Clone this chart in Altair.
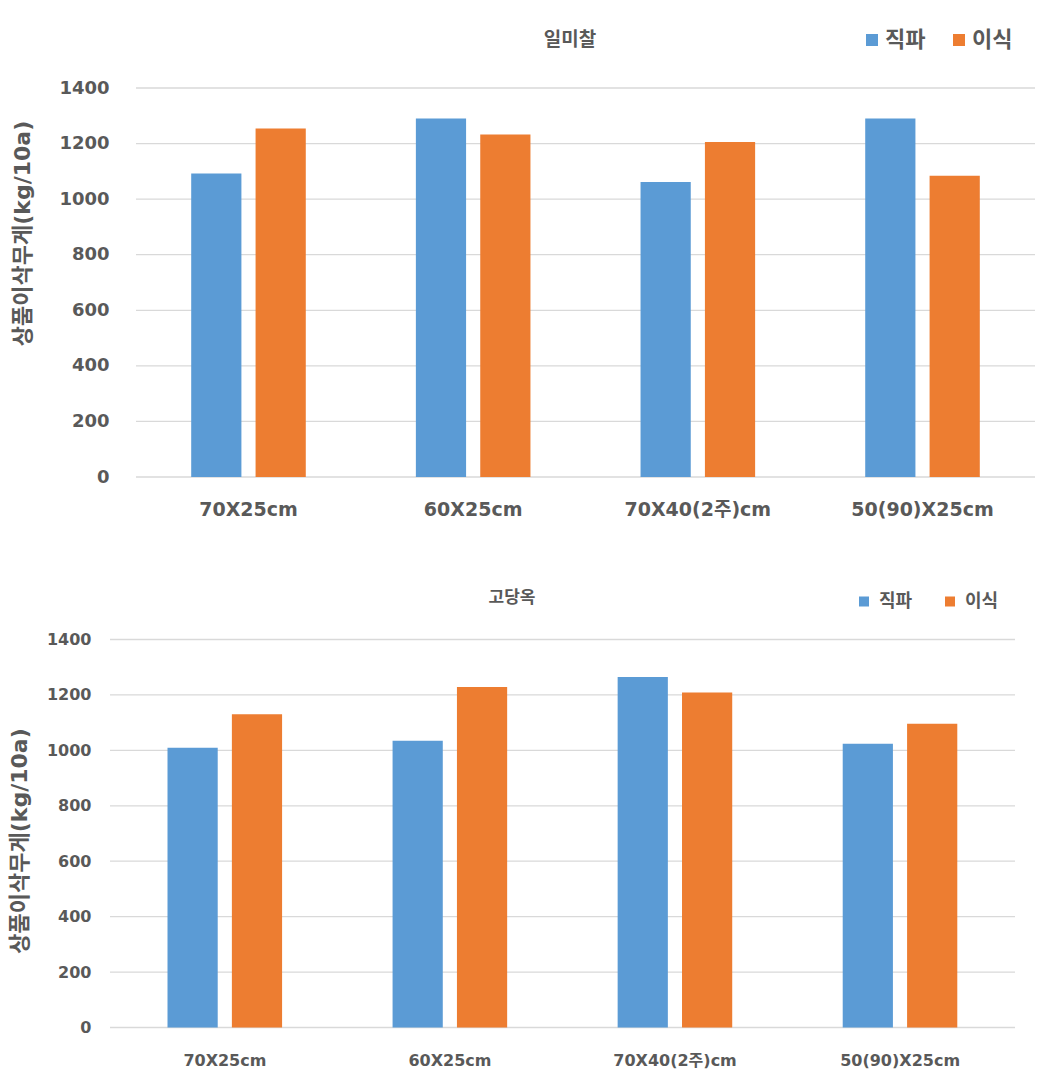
import altair as alt
import pandas as pd

categories = ["70X25cm", "60X25cm", "70X40(2주)cm", "50(90)X25cm"]
series = ["직파", "이식"]
ilmichal_direct = [1092, 1290, 1062, 1290]
ilmichal_transplant = [1254, 1233, 1206, 1084]
godangok_direct = [1009, 1035, 1265, 1024]
godangok_transplant = [1130, 1229, 1209, 1096]
y_ticks = [0, 200, 400, 600, 800, 1000, 1200, 1400]
y_title = "상품이삭무게(kg/10a)"

COLORS = ["#5B9BD5", "#ED7D31"]
TXT = "#595959"
GRID = "#D9D9D9"
FONT = "DejaVu Sans, Noto Sans CJK KR"
KFONT = "Noto Sans CJK KR"


def make_df(direct, transplant):
    rows = []
    for c, d, t in zip(categories, direct, transplant):
        rows.append({"cat": c, "series": series[0], "value": d})
        rows.append({"cat": c, "series": series[1], "value": t})
    return pd.DataFrame(rows)


grid_df = pd.DataFrame({"value": y_ticks})


def panel(df, title, off, w, h, pad_out, fs_tick, fs_xlab, fs_leg, fs_title,
          title_dx, title_off, ytitle_x, ytitle_y, ylab_pad, xlab_pad, leg_x,
          leg_y, sym, lab_off, colpad):
    yscale = alt.Scale(domain=[0, 1400], nice=False)
    yaxis = alt.Axis(values=y_ticks, format="d", title=y_title,
                     titleFont=FONT, titleFontSize=22, titleFontWeight="bold",
                     titleColor=TXT, titleX=ytitle_x, titleY=ytitle_y,
                     titleAngle=270, titleAlign="center", titleBaseline="middle",
                     labelFont=FONT, labelFontSize=fs_tick,
                     labelFontWeight="bold", labelColor=TXT,
                     labelPadding=ylab_pad, ticks=False, domain=False,
                     grid=False)
    rules = alt.Chart(grid_df).mark_rule(color=GRID, strokeWidth=1.3).encode(
        y=alt.Y("value:Q", scale=yscale, axis=yaxis),
        x=alt.value(off), x2=alt.value(w),
    )
    bars = alt.Chart(df).mark_bar().encode(
        x=alt.X("cat:N", sort=categories,
                scale=alt.Scale(range=[off, w], paddingInner=0.49,
                                paddingOuter=pad_out),
                axis=alt.Axis(title=None, labelAngle=0, labelFontSize=fs_xlab,
                              labelFont=FONT, labelFontWeight="bold", labelColor=TXT,
                              labelPadding=xlab_pad, ticks=False, domain=False,
                              grid=False)),
        xOffset=alt.XOffset("series:N", sort=series,
                            scale=alt.Scale(paddingInner=0.22, paddingOuter=0)),
        y=alt.Y("value:Q", scale=yscale, axis=yaxis),
        color=alt.Color("series:N", sort=series,
                        scale=alt.Scale(domain=series, range=COLORS),
                        legend=alt.Legend(title=None, orient="none",
                                          legendX=leg_x, legendY=leg_y,
                                          direction="horizontal",
                                          symbolType="square", symbolSize=sym,
                                          symbolStrokeWidth=0, symbolOpacity=1,
                                          labelFont=KFONT, labelFontSize=fs_leg,
                                          labelFontWeight="bold", labelColor=TXT,
                                          labelOffset=lab_off, columnPadding=colpad,
                                          padding=0)),
    )
    return alt.layer(rules, bars).properties(
        width=w, height=h,
        title=alt.TitleParams(text=title, font=KFONT, fontSize=fs_title,
                              fontWeight="bold", color=TXT, anchor="middle",
                              dx=title_dx, offset=title_off),
    )


top = panel(make_df(ilmichal_direct, ilmichal_transplant), "일미찰", 26, 925, 389,
            0.2457, 18, 19, 22, 19, -2.5, -21, -88, 145, 1, 23, 751, -59, 144, 2, 22)
bottom = panel(make_df(godangok_direct, godangok_transplant), "고당옥", 0, 905, 388,
               0.2555, 16, 16, 18, 17, -50.5, -14.5, -91, 201, 19, 25, 745, -47,
               100, 6, 28)

chart = alt.vconcat(top, bottom, spacing=69.5).resolve_scale(
    color="independent").resolve_legend(color="independent").properties(
    padding={"left": 0, "top": 21, "right": 5, "bottom": 5},
    background="white",
).configure_view(strokeWidth=0, stroke="transparent")

chart.save("out.html", embed_options={"renderer": "svg", "actions": False})
